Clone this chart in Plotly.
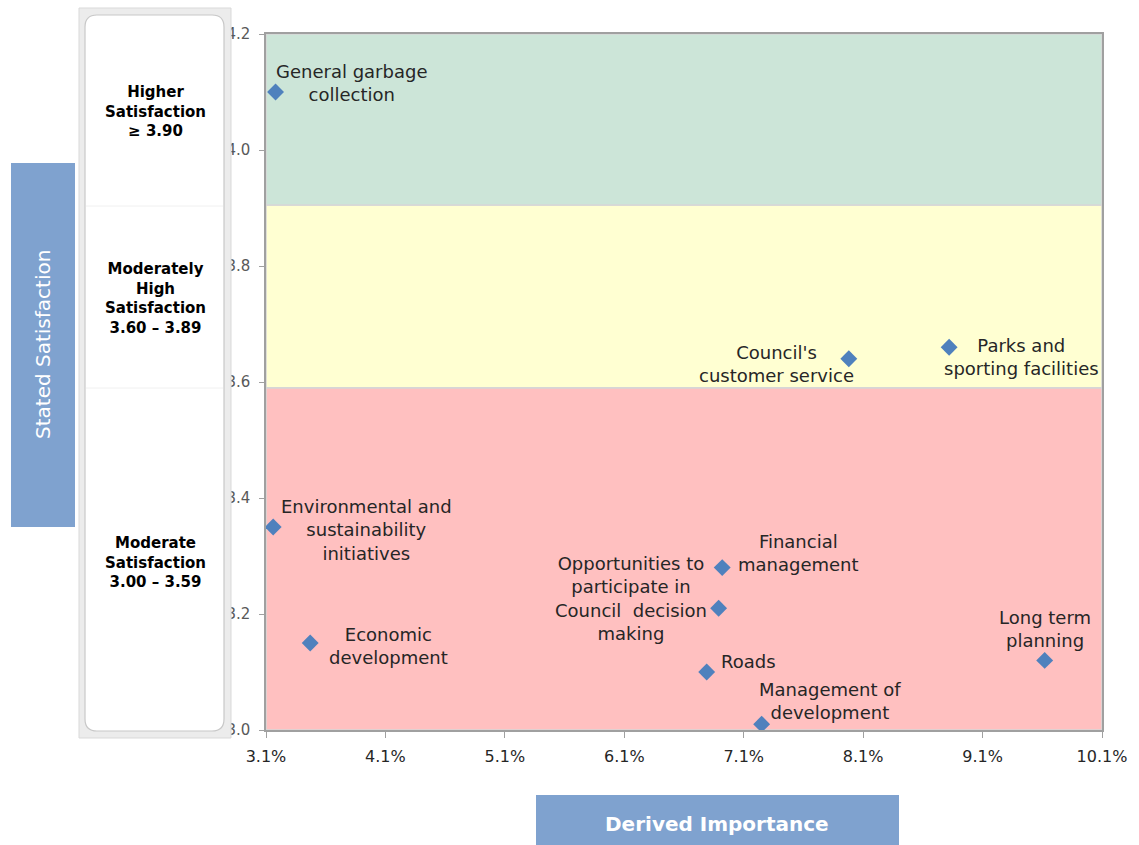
import plotly.graph_objects as go

# Service areas: derived importance (%) vs stated satisfaction (mean score)
services = [
    "General garbage<br>collection",
    "Council's<br>customer service",
    "Parks and<br>sporting facilities",
    "Environmental and<br>sustainability<br>initiatives",
    "Economic<br>development",
    "Financial<br>management",
    "Opportunities to<br>participate in<br>Council  decision<br>making",
    "Roads",
    "Management of<br>development",
    "Long term<br>planning",
]
importance = [3.18, 7.98, 8.82, 3.16, 3.47, 6.92, 6.89, 6.79, 7.25, 9.62]
satisfaction = [4.10, 3.64, 3.66, 3.35, 3.15, 3.28, 3.21, 3.10, 3.01, 3.12]

# Label placement relative to each marker, in pixels (dx, dy; dy up is positive)
label_offsets = [(76, 9), (-72, -5), (72, -10), (93, -3), (78, -3),
                 (76, 15), (-88, 10), (42, 11), (68, 23), (0, 31)]

x_ticks = [3.1, 4.1, 5.1, 6.1, 7.1, 8.1, 9.1, 10.1]
x_tick_text = ["3.1%", "4.1%", "5.1%", "6.1%", "7.1%", "8.1%", "9.1%", "10.1%"]
y_ticks = [3.0, 3.2, 3.4, 3.6, 3.8, 4.0, 4.2]

# Satisfaction bands: (low, high, fill colour)
bands = [(3.0, 3.59, "#ffc0c0"), (3.59, 3.905, "#ffffd2"), (3.905, 4.2, "#cce5d8")]

band_titles = [
    ("<b>Higher<br>Satisfaction<br>≥ 3.90</b>", 111),
    ("<b>Moderately<br>High<br>Satisfaction<br>3.60 – 3.89</b>", 298),
    ("<b>Moderate<br>Satisfaction<br>3.00 – 3.59</b>", 562),
]

W, H = 1139, 845
L, R, T, B = 266, 37, 34, 115
PW, PH = W - L - R, H - T - B
FONT = "DejaVu Sans"
BLUE = "#7fa2cf"


def px(x):
    return (x - L) / PW


def py(y):
    return (H - B - y) / PH


fig = go.Figure()

fig.add_trace(go.Scatter(
    x=importance, y=satisfaction, mode="markers",
    marker=dict(symbol="diamond", size=13, color="#4f81bd"),
    hoverinfo="skip", showlegend=False,
))

shapes = []
for lo, hi, col in bands:
    shapes.append(dict(type="rect", xref="x", yref="y", x0=3.1, x1=10.1, y0=lo, y1=hi,
                       fillcolor=col, line=dict(color="#d6d6d6", width=1.5), layer="below"))

# Axis title boxes
shapes.append(dict(type="rect", xref="paper", yref="paper", x0=px(11), x1=px(75),
                   y0=py(527), y1=py(163), fillcolor=BLUE, line=dict(width=0)))
shapes.append(dict(type="rect", xref="paper", yref="paper", x0=px(536), x1=px(899),
                   y0=py(845), y1=py(795), fillcolor=BLUE, line=dict(width=0)))

# Band legend panel: grey frame with rounded inner box
shapes.append(dict(type="rect", xref="paper", yref="paper", x0=px(79), x1=px(231),
                   y0=py(738), y1=py(8), fillcolor="#ececec",
                   line=dict(color="#d9d9d9", width=1)))
r = 12
x0, x1, y0, y1 = 85, 224, 15, 731
path = (f"M {px(x0 + r)},{py(y0)} L {px(x1 - r)},{py(y0)} "
        f"Q {px(x1)},{py(y0)} {px(x1)},{py(y0 + r)} L {px(x1)},{py(y1 - r)} "
        f"Q {px(x1)},{py(y1)} {px(x1 - r)},{py(y1)} L {px(x0 + r)},{py(y1)} "
        f"Q {px(x0)},{py(y1)} {px(x0)},{py(y1 - r)} L {px(x0)},{py(y0 + r)} "
        f"Q {px(x0)},{py(y0)} {px(x0 + r)},{py(y0)} Z")
shapes.append(dict(type="path", xref="paper", yref="paper", path=path,
                   fillcolor="white", line=dict(color="#c8c8c8", width=1.2)))
for yy in (206, 388):
    shapes.append(dict(type="line", xref="paper", yref="paper", x0=px(86), x1=px(223),
                       y0=py(yy), y1=py(yy), line=dict(color="#f0f0f0", width=1)))

annotations = []
for name, xv, yv, (dx, dy) in zip(services, importance, satisfaction, label_offsets):
    annotations.append(dict(x=xv, y=yv, xref="x", yref="y", text=name, showarrow=False,
                            xshift=dx, yshift=dy, align="center",
                            xanchor="center", yanchor="middle",
                            font=dict(family=FONT, size=18, color="#262626")))

for text, yc in band_titles:
    annotations.append(dict(x=px(155), y=py(yc), xref="paper", yref="paper", text=text,
                            showarrow=False, align="center", xanchor="center",
                            yanchor="middle",
                            font=dict(family=FONT, size=15, color="black")))

annotations.append(dict(x=px(43), y=py(345), xref="paper", yref="paper",
                        text="Stated Satisfaction", textangle=-90, showarrow=False,
                        xanchor="center", yanchor="middle",
                        font=dict(family=FONT, size=20, color="white")))
annotations.append(dict(x=px(717), y=py(824), xref="paper", yref="paper",
                        text="<b>Derived Importance</b>", showarrow=False,
                        xanchor="center", yanchor="middle",
                        font=dict(family=FONT, size=20, color="white")))

fig.update_layout(
    width=W, height=H,
    margin=dict(l=L, r=R, t=T, b=B),
    paper_bgcolor="white", plot_bgcolor="white",
    shapes=shapes, annotations=annotations,
    xaxis=dict(range=[3.1, 10.1], tickvals=x_ticks, ticktext=x_tick_text,
               showgrid=False, zeroline=False, showline=True, linecolor="#a0a0a0",
               linewidth=1.5, mirror=True, ticks="outside", ticklen=6, tickcolor="#a0a0a0",
               tickfont=dict(family=FONT, size=16, color="#262626"),
               ticklabelstandoff=5),
    yaxis=dict(range=[3.0, 4.2], tickvals=y_ticks, tickformat=".1f",
               showgrid=False, zeroline=False, showline=True, linecolor="#a0a0a0",
               linewidth=1.5, mirror=True, ticks="outside", ticklen=5, tickcolor="#a0a0a0",
               tickfont=dict(family=FONT, size=15, color="#595959"),
               ticklabelstandoff=6),
)

fig.write_html("out.html")
